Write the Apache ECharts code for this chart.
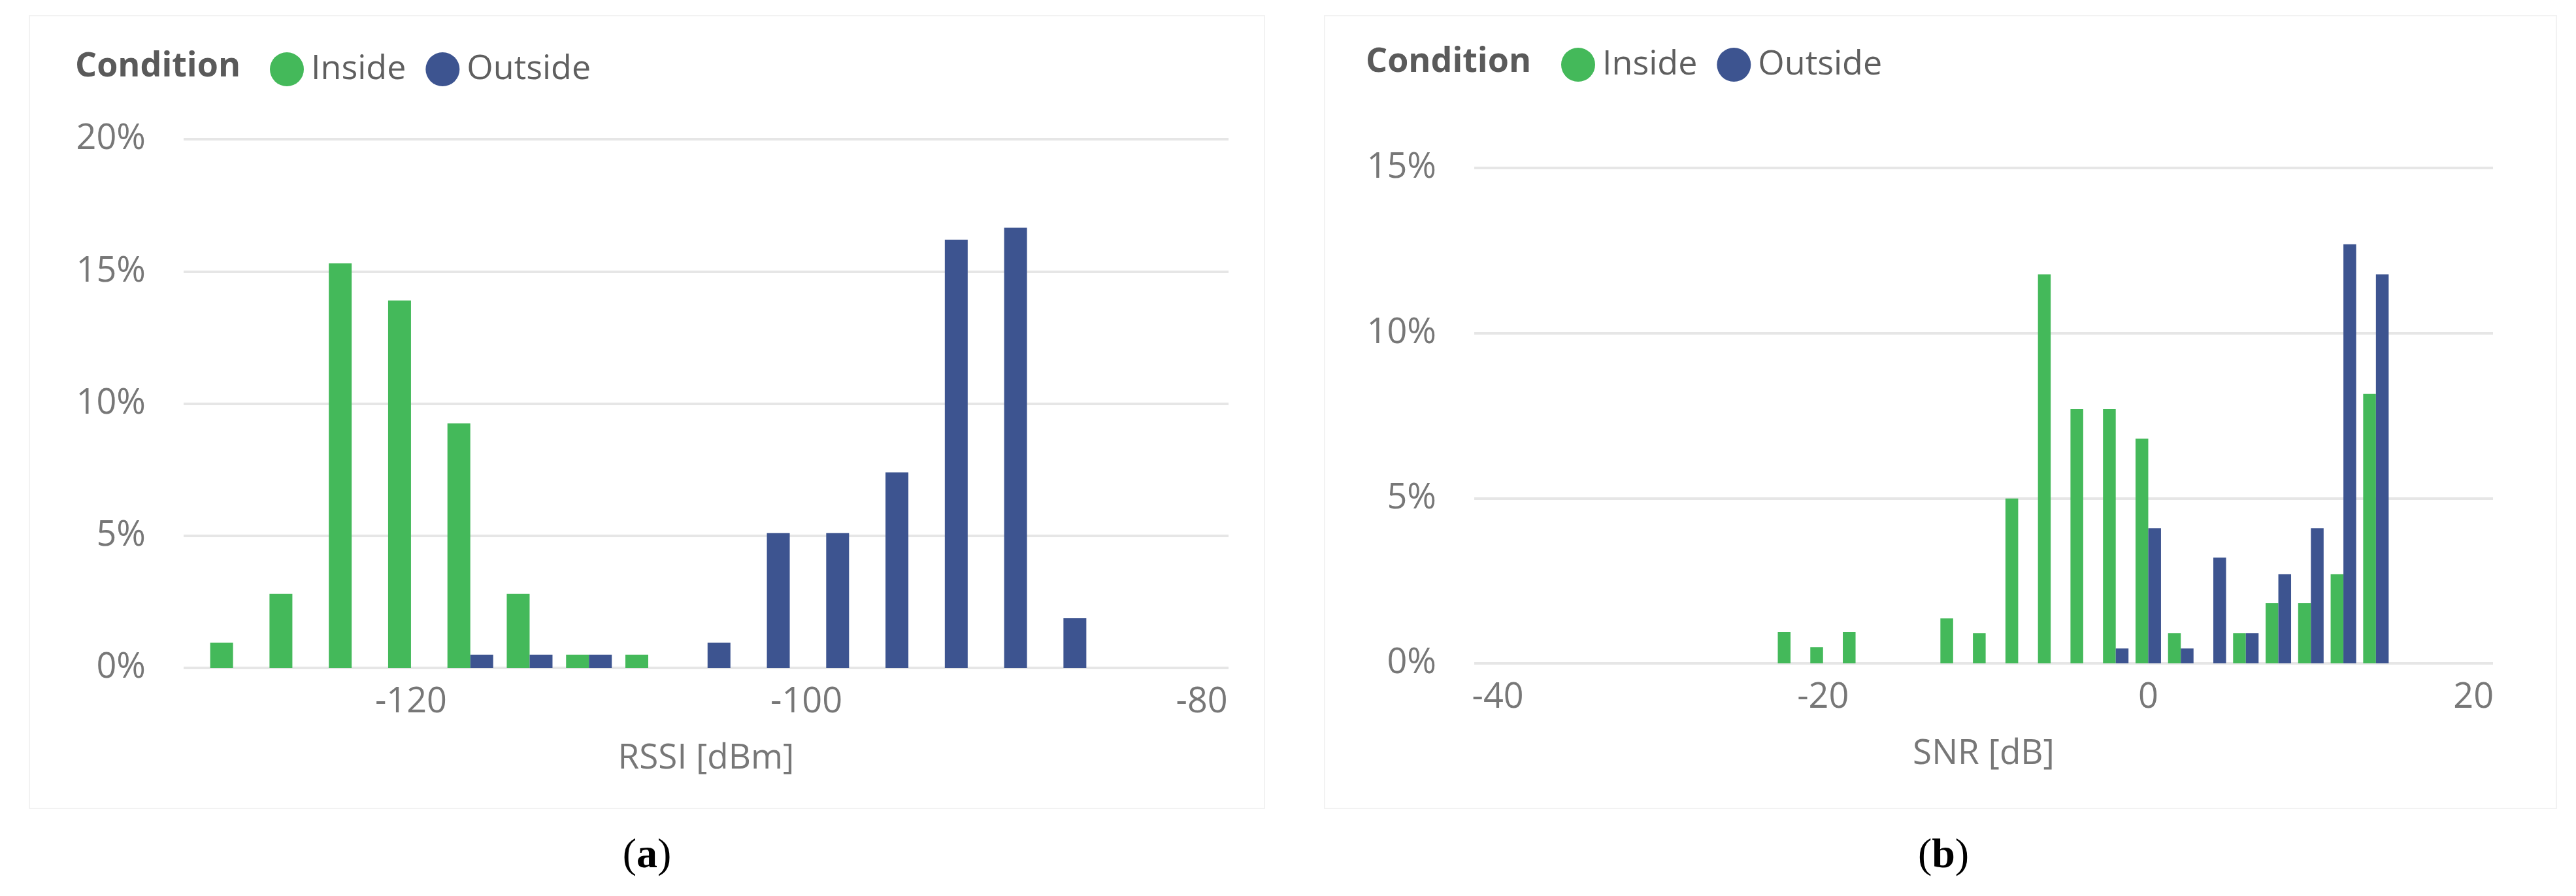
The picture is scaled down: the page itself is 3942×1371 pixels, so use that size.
<!DOCTYPE html>
<html>
<head>
<meta charset="utf-8">
<script src="https://cdn.jsdelivr.net/npm/echarts@6/dist/echarts.min.js"></script>
<style>
    html, body { margin: 0; padding: 0; background: #ffffff; }
    #chart { width: 3942px; height: 1371px; }
</style>
</head>
<body>
<div id="chart"></div>
<script>
// (a) RSSI histogram, 3 dBm bins
const rssiBins = [-129, -126, -123, -120, -117, -114, -111, -108, -105, -102, -99, -96, -93, -90, -87];
const rssiInside = [0.95, 2.8, 15.3, 13.9, 9.25, 2.8, 0.5, 0.5, null, null, null, null, null, null, null];
const rssiOutside = [null, null, null, null, 0.5, 0.5, 0.5, null, 0.95, 5.1, 5.1, 7.4, 16.2, 16.65, 1.88];
const rssiTicks = [-120, -100, -80];

// (b) SNR histogram, 2 dB bins
const snrBins = [-22, -20, -18, -12, -10, -8, -6, -4, -2, 0, 2, 4, 6, 8, 10, 12, 14];
const snrInside = [0.95, 0.49, 0.95, 1.36, 0.91, 4.99, 11.78, 7.7, 7.7, 6.8, 0.91, null, 0.91, 1.82, 1.82, 2.7, 8.16];
const snrOutside = [null, null, null, null, null, null, null, null, 0.45, 4.09, 0.45, 3.2, 0.91, 2.7, 4.09, 12.69, 11.78];
const snrTicks = [-40, -20, 0, 20];

const conditions = ['Inside', 'Outside'];
const colors = ['#44b95a', '#3d5490'];

function pairs(bins, values) {
    const out = [];
    bins.forEach(function(b, i) {
        if (values[i] != null) out.push([b, values[i]]);
    });
    return out;
}

document.addEventListener('DOMContentLoaded', function() {
    const chart = echarts.init(document.getElementById('chart'));

    const fontFamily = '"Open Sans", "Noto Sans", sans-serif';
    const labelColor = '#777777';

    function xAxis(idx, min, max, ticks, name) {
        return {
            type: 'value',
            gridIndex: idx,
            min: min,
            max: max,
            name: name,
            nameLocation: 'middle',
            nameGap: 112,
            nameTextStyle: { fontSize: 53, color: labelColor, fontFamily: fontFamily },
            axisLine: { show: false },
            axisTick: { show: false },
            splitLine: { show: false },
            axisLabel: {
                customValues: ticks,
                fontSize: 54,
                color: labelColor,
                fontFamily: fontFamily,
                margin: 26
            }
        };
    }

    function yAxis(idx, max) {
        return {
            type: 'value',
            gridIndex: idx,
            min: 0,
            max: max,
            interval: 5,
            axisLine: { show: false },
            axisTick: { show: false },
            splitLine: { lineStyle: { color: '#e6e6e6', width: 4 } },
            axisLabel: {
                formatter: '{value}%',
                fontSize: 54,
                color: labelColor,
                fontFamily: fontFamily,
                margin: 58
            }
        };
    }

    function legend(left, top) {
        return {
            data: conditions,
            left: left,
            top: top,
            icon: 'circle',
            itemWidth: 52,
            itemHeight: 52,
            itemGap: 30,
            textStyle: { fontSize: 52, color: '#5f5f5f', fontFamily: fontFamily, padding: [0, 0, 0, 6] }
        };
    }

    function bars(name, data, axisIdx, width, color) {
        return {
            name: name,
            type: 'bar',
            xAxisIndex: axisIdx,
            yAxisIndex: axisIdx,
            barWidth: width,
            barGap: '0%',
            itemStyle: { color: color },
            data: data
        };
    }

    const option = {
        animation: false,
        color: colors,
        grid: [
            { left: 281, top: 213, width: 1599, height: 809 },
            { left: 2256, top: 257, width: 1559, height: 758 }
        ],
        legend: [legend(408, 75), legend(2384, 68)],
        xAxis: [
            xAxis(0, -131.5, -78.65, rssiTicks, 'RSSI [dBm]'),
            xAxis(1, -41.45, 21.2, snrTicks, 'SNR [dB]')
        ],
        yAxis: [yAxis(0, 20), yAxis(1, 15)],
        series: [
            bars('Inside', pairs(rssiBins, rssiInside), 0, 35, colors[0]),
            bars('Outside', pairs(rssiBins, rssiOutside), 0, 35, colors[1]),
            bars('Inside', pairs(snrBins, snrInside), 1, 19.5, colors[0]),
            bars('Outside', pairs(snrBins, snrOutside), 1, 19.5, colors[1])
        ],
        graphic: [
            // panel frames
            { type: 'rect', shape: { x: 45, y: 24, width: 1890, height: 1213 },
              style: { fill: 'none', stroke: '#f2f2f2', lineWidth: 2 }, silent: true },
            { type: 'rect', shape: { x: 2027, y: 24, width: 1885, height: 1213 },
              style: { fill: 'none', stroke: '#f2f2f2', lineWidth: 2 }, silent: true },
            // legend titles
            { type: 'text', left: 115, top: 76,
              style: { text: 'Condition', fontSize: 52, fontWeight: 'bold', fill: '#5a5a5a', fontFamily: fontFamily } },
            { type: 'text', left: 2090, top: 69,
              style: { text: 'Condition', fontSize: 52, fontWeight: 'bold', fill: '#5a5a5a', fontFamily: fontFamily } },
            // captions
            { type: 'text', x: 990, y: 1310,
              style: { text: '({b|a})', align: 'center', verticalAlign: 'middle',
                       fontSize: 64, fill: '#000', fontFamily: '"Liberation Serif", serif',
                       rich: { b: { fontSize: 64, fontWeight: 'bold', fontFamily: '"Liberation Serif", serif' } } } },
            { type: 'text', x: 2974, y: 1310,
              style: { text: '({b|b})', align: 'center', verticalAlign: 'middle',
                       fontSize: 64, fill: '#000', fontFamily: '"Liberation Serif", serif',
                       rich: { b: { fontSize: 64, fontWeight: 'bold', fontFamily: '"Liberation Serif", serif' } } } }
        ]
    };

    chart.setOption(option);

    window.addEventListener('resize', function() {
        chart.resize();
    });
});
</script>
</body>
</html>
